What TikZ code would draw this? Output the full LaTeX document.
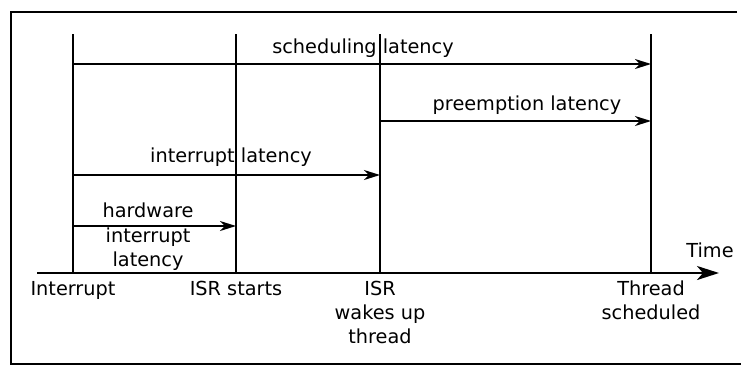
\documentclass[tikz,border=0pt]{standalone}
\usepackage{fontspec}
\setmainfont{DejaVu Sans}
\usetikzlibrary{arrows.meta}
\tikzset{
  lbl/.style={font=\fontsize{19.3}{24}\selectfont, inner sep=0pt, anchor=base, align=center},
  tick/.style={line width=1.6pt},
  span/.style={line width=1.6pt, -{Stealth[length=16pt,width=10pt,inset=5pt]}},
  axis/.style={line width=2.4pt, -{Stealth[length=22pt,width=14pt,inset=6pt]}},
  frame/.style={line width=1.8pt}
}
\begin{document}
\begin{tikzpicture}[x=1pt,y=-1pt]
\useasboundingbox (0,0) rectangle (741,365);
% frame
\coordinate (f1) at (737,12); \coordinate (f2) at (11,12);
\coordinate (f3) at (11,364); \coordinate (f4) at (742,364);
\draw[frame] (f1) -- (f2) -- (f3) -- (f4);
% tick tops and bottoms
\coordinate (t1) at (73,34);  \coordinate (b1) at (73,273);
\coordinate (t2) at (236,34); \coordinate (b2) at (236,273);
\coordinate (t3) at (380,34); \coordinate (b3) at (380,273);
\coordinate (t4) at (651,34); \coordinate (b4) at (651,273);
\draw[tick] (t1) -- (b1);
\draw[tick] (t2) -- (b2);
\draw[tick] (t3) -- (b3);
\draw[tick] (t4) -- (b4);
% axis
\coordinate (a0) at (37,273);
\coordinate (a1) at (719,273);
\draw[axis] (a0) -- (a1);
% spans
\coordinate (s1) at (73,64);  \coordinate (s2) at (651,64);
\coordinate (p1) at (380,121); \coordinate (p2) at (651,121);
\coordinate (i1) at (73,175); \coordinate (i2) at (380,175);
\coordinate (h1) at (73,226); \coordinate (h2) at (236,226);
\draw[span] (s1) -- (s2);
\draw[span] (p1) -- (p2);
\draw[span] (i1) -- (i2);
\draw[span] (h1) -- (h2);
% labels
\node[lbl] (ls) at (363,53) {scheduling latency};
\node[lbl] (lp) at (527,110) {preemption latency};
\node[lbl] (li) at (231,162) {interrupt latency};
\node[lbl] (lh1) at (148,217) {hardware};
\node[lbl] (lh2) at (148,242) {interrupt};
\node[lbl] (lh3) at (148,266) {latency};
\node[lbl] (e1) at (73,295) {Interrupt};
\node[lbl] (e2) at (236,295) {ISR starts};
\node[lbl] (e3) at (380,343) {ISR\\wakes up\\thread};
\node[lbl] (e4) at (651,319) {Thread\\scheduled};
\node[lbl] (lt) at (710,257) {Time};
\end{tikzpicture}
\end{document}
